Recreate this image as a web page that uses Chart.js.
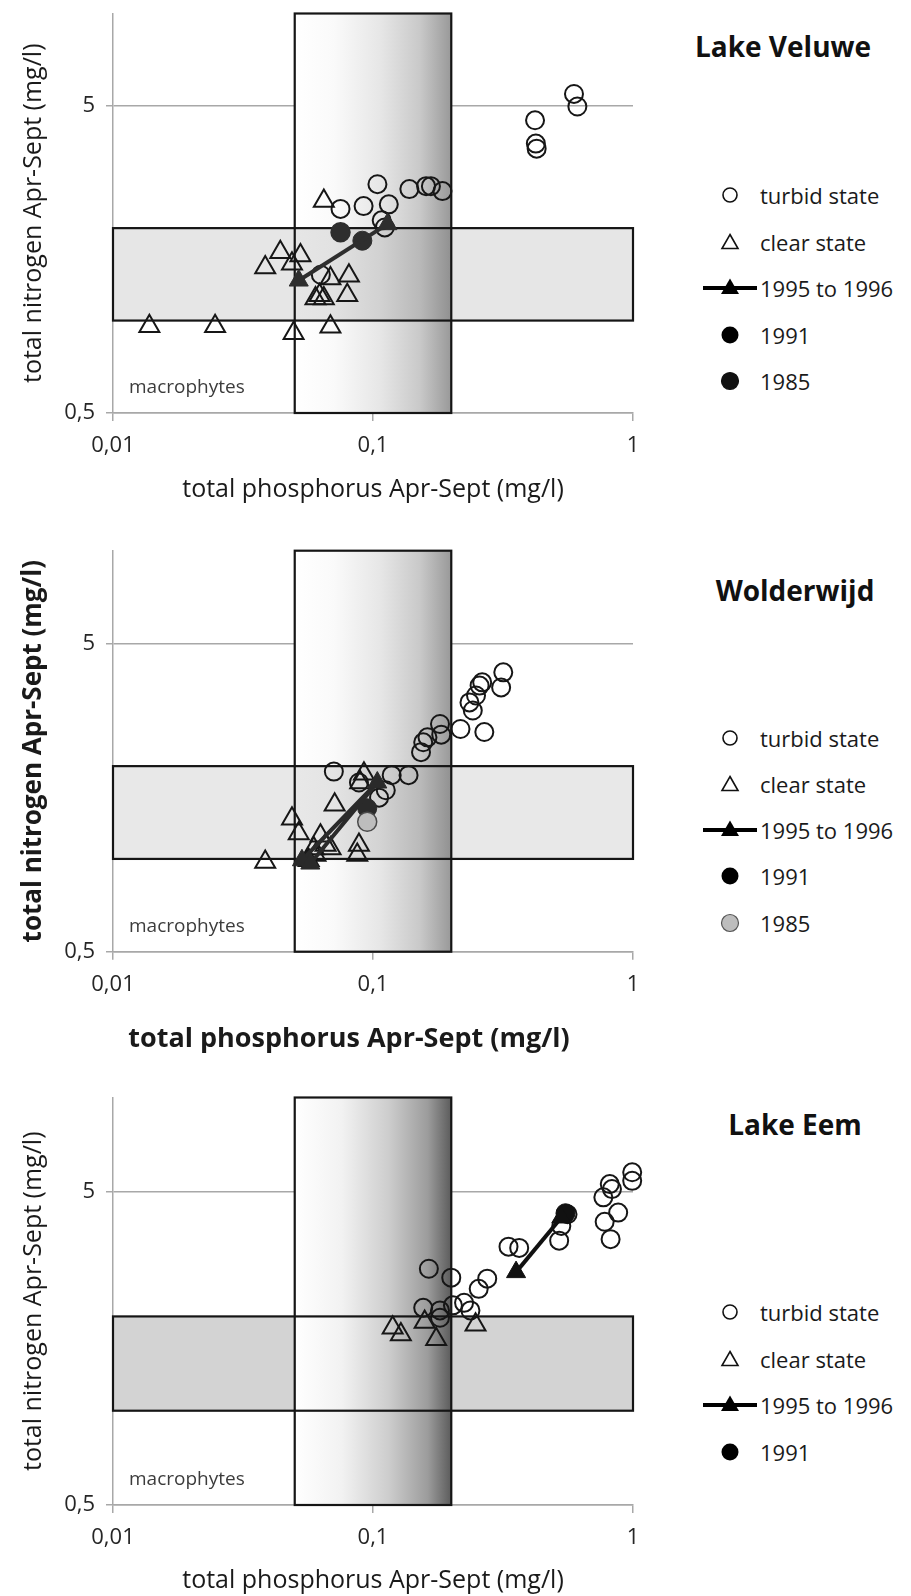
<!DOCTYPE html>
<html>
<head>
<meta charset="utf-8">
<script src="https://cdn.jsdelivr.net/npm/chart.js@4.4.1/dist/chart.umd.min.js"></script>
<style>
  html, body { margin: 0; padding: 0; background: #fff; }
  body { width: 911px; height: 1596px; position: relative; overflow: hidden;
         font-family: "Open Sans", "DejaVu Sans", sans-serif; color: #111; }
  canvas.panel { position: absolute; left: 0; }
  .lake { position: absolute; font-weight: bold; font-size: 28px; white-space: nowrap;
          transform: translate(-50%, -50%); color: #111; }
  .key { position: absolute; left: 760px; font-size: 22px; white-space: nowrap;
         transform: translateY(-50%); color: #1a1a1a; line-height: 1; }
  .mark { position: absolute; left: 700px; width: 60px; height: 26px; transform: translateY(-50%); }
  .axis-caption { position: absolute; white-space: nowrap; transform: translate(-50%, -50%);
                  color: #1a1a1a; line-height: 1; }
</style>
</head>
<body>
<canvas id="veluwe" class="panel" width="660" height="520" style="top:0px"></canvas>
<canvas id="wolderwijd" class="panel" width="660" height="530" style="top:530px"></canvas>
<canvas id="eem" class="panel" width="660" height="526" style="top:1070px"></canvas>

<script>
// ---- axes -------------------------------------------------------------
const phosphorusTicks = [0.01, 0.1, 1];
const phosphorusTickLabels = ['0,01', '0,1', '1'];
const nitrogenTicks = [0.5, 5];
const nitrogenTickLabels = ['0,5', '5'];
const phosphorusRange = [0.01, 1];
const nitrogenRange = [0.5, 10];
const phosphorusTitle = 'total phosphorus Apr-Sept (mg/l)';
const nitrogenTitle = 'total nitrogen Apr-Sept (mg/l)';

// ---- reference zones (mg/l) ------------------------------------------
const bandPhosphorus = [0.01, 1];      // horizontal band, nitrogen 1-2
const bandNitrogen = [1, 2];
const boxPhosphorus = [0.05, 0.2];     // vertical box, full nitrogen range
const boxNitrogen = [0.5, 10];

// ---- Lake Veluwe: [total P, total N] -----------------------------------
const veluweTurbid = [
  [0.593, 5.47], [0.611, 4.98], [0.42, 4.49], [0.423, 3.77], [0.426, 3.63],
  [0.104, 2.78], [0.138, 2.68], [0.160, 2.74], [0.167, 2.74], [0.185, 2.64],
  [0.075, 2.31], [0.092, 2.36], [0.115, 2.39], [0.108, 2.12], [0.111, 2.01],
  [0.063, 1.41]
];
const veluweClear = [
  [0.0138, 0.959], [0.0247, 0.959], [0.0495, 0.91], [0.0686, 0.955],
  [0.0647, 2.45], [0.0385, 1.49], [0.044, 1.67], [0.0488, 1.53], [0.0526, 1.63],
  [0.0686, 1.37], [0.0808, 1.40], [0.0796, 1.21], [0.0601, 1.18], [0.0647, 1.18],
  [0.0623, 1.21]
];
const veluwe1995to1996 = [[0.0518, 1.35], [0.1136, 2.06]];
const veluwe1991 = [[0.091, 1.82]];
const veluwe1985 = [[0.075, 1.94]];

// ---- Wolderwijd --------------------------------------------------------
const wolderwijdTurbid = [
  [0.317, 4.03], [0.311, 3.60], [0.263, 3.74], [0.257, 3.65], [0.249, 3.39],
  [0.235, 3.22], [0.242, 3.03], [0.268, 2.58], [0.217, 2.64], [0.181, 2.74],
  [0.183, 2.53], [0.162, 2.48], [0.156, 2.39], [0.153, 2.22], [0.0707, 1.92],
  [0.118, 1.87], [0.137, 1.87], [0.0883, 1.77], [0.112, 1.67], [0.1055, 1.58]
];
const wolderwijdClear = [
  [0.0923, 1.89], [0.0893, 1.77], [0.0712, 1.50], [0.0488, 1.35], [0.0518, 1.21],
  [0.0628, 1.19], [0.0657, 1.11], [0.0687, 1.08], [0.0592, 1.08], [0.0601, 1.03],
  [0.0566, 0.99], [0.0883, 1.11], [0.087, 1.03], [0.0385, 0.978]
];
const wolderwijd1995to1996 = [[0.0533, 0.99], [0.1039, 1.77], [0.0574, 0.966]];
const wolderwijd1991 = [[0.095, 1.46]];
const wolderwijd1985 = [[0.095, 1.32]];

// ---- Lake Eem ----------------------------------------------------------
const eemTurbid = [
  [0.993, 5.77], [0.993, 5.42], [0.814, 5.29], [0.830, 5.10], [0.769, 4.80],
  [0.877, 4.29], [0.778, 4.01], [0.820, 3.53], [0.560, 4.24], [0.530, 3.89],
  [0.520, 3.49], [0.332, 3.34], [0.365, 3.31], [0.164, 2.84], [0.200, 2.66],
  [0.275, 2.64], [0.255, 2.45], [0.156, 2.13], [0.181, 2.09], [0.181, 1.98],
  [0.203, 2.17], [0.224, 2.21], [0.237, 2.09]
];
const eemClear = [[0.119, 1.84], [0.128, 1.75], [0.158, 1.92], [0.175, 1.69], [0.248, 1.88]];
const eem1995to1996 = [[0.355, 2.77], [0.53, 4.14]];
const eem1991 = [[0.55, 4.27]];

const FONT = '"Open Sans", "DejaVu Sans", sans-serif';
const pts = arr => arr.map(([x, y]) => ({ x, y }));

// Shaded nutrient zones drawn beneath the data points
const zonesPlugin = {
  id: 'zones',
  beforeDatasetsDraw(chart, args, opts) {
    const { ctx, chartArea, scales: { x, y } } = chart;
    const bl = x.getPixelForValue(bandPhosphorus[0]), br = x.getPixelForValue(bandPhosphorus[1]);
    const bt = y.getPixelForValue(bandNitrogen[1]), bb = y.getPixelForValue(bandNitrogen[0]);
    const vl = x.getPixelForValue(boxPhosphorus[0]), vr = x.getPixelForValue(boxPhosphorus[1]);
    const vt = y.getPixelForValue(boxNitrogen[1]), vb = y.getPixelForValue(boxNitrogen[0]);
    ctx.save();
    const grad = ctx.createLinearGradient(vl, 0, vr, 0);
    opts.stops.forEach(([o, c]) => grad.addColorStop(o, c));
    if (opts.opaqueBox) {
      ctx.fillStyle = opts.bandColor;
      ctx.fillRect(bl, bt, br - bl, bb - bt);
      ctx.fillStyle = grad;
      ctx.fillRect(vl, vt, vr - vl, vb - vt);
    } else {
      ctx.fillStyle = '#ffffff';
      ctx.fillRect(vl, vt, vr - vl, vb - vt);
      ctx.fillStyle = opts.bandColor;
      ctx.fillRect(bl, bt, br - bl, bb - bt);
      ctx.fillStyle = grad;
      ctx.fillRect(vl, vt, vr - vl, vb - vt);
    }
    ctx.strokeStyle = '#151515';
    ctx.lineWidth = 2.2;
    ctx.strokeRect(bl, bt, br - bl, bb - bt);
    ctx.strokeRect(vl, vt, vr - vl, vb - vt);
    ctx.fillStyle = '#3c3c3c';
    ctx.font = '19px ' + FONT;
    ctx.textBaseline = 'middle';
    ctx.textAlign = 'left';
    ctx.fillText('macrophytes', chartArea.left + 16, chartArea.bottom - 25);
    ctx.restore();
  }
};

function buildChart(id, cfg) {
  const datasets = [
    { label: 'turbid state', data: pts(cfg.turbid), pointStyle: 'circle', pointRadius: 9,
      backgroundColor: 'rgba(0,0,0,0)', borderColor: '#161616', borderWidth: 2, order: 5, clip: false },
    { label: 'clear state', data: pts(cfg.clear), pointStyle: 'triangle', pointRadius: 11.5,
      backgroundColor: 'rgba(0,0,0,0)', borderColor: '#161616', borderWidth: 2, order: 4, clip: false },
    { label: '1995 to 1996', data: pts(cfg.line), showLine: true, pointStyle: 'triangle',
      pointRadius: 11, backgroundColor: cfg.lineColor, pointBackgroundColor: cfg.lineColor,
      borderColor: cfg.lineColor, pointBorderColor: cfg.lineColor, borderWidth: 4,
      pointBorderWidth: 1, order: 1, clip: false },
    { label: '1991', data: pts(cfg.y1991), pointStyle: 'circle', pointRadius: 9.5,
      backgroundColor: cfg.lineColor, borderColor: cfg.lineColor, borderWidth: 1, order: 3, clip: false }
  ];
  if (cfg.y1985) {
    datasets.push({ label: '1985', data: pts(cfg.y1985), pointStyle: 'circle', pointRadius: 9.5,
      backgroundColor: cfg.color1985, borderColor: cfg.border1985, borderWidth: 1.5, order: 2, clip: false });
  }
  const weight = cfg.bold ? 'bold' : 'normal';
  return new Chart(document.getElementById(id), {
    type: 'scatter',
    data: { datasets },
    plugins: [zonesPlugin],
    options: {
      responsive: false,
      animation: false,
      devicePixelRatio: 1,
      layout: { padding: { top: cfg.padTop, right: 27, left: 0, bottom: 0 } },
      plugins: {
        legend: { display: false },
        tooltip: { enabled: false },
        zones: { bandColor: cfg.bandColor, stops: cfg.stops, opaqueBox: cfg.opaqueBox }
      },
      scales: {
        x: {
          type: 'logarithmic', position: 'bottom',
          min: phosphorusRange[0], max: phosphorusRange[1],
          afterBuildTicks: s => { s.ticks = phosphorusTicks.map(v => ({ value: v })); },
          afterFit: s => { s.height = cfg.xAxisHeight; s.paddingLeft = 0; s.paddingRight = 0; },
          ticks: {
            autoSkip: false, maxRotation: 0, padding: 12, color: '#262626',
            font: { size: 22, family: FONT },
            callback: v => phosphorusTickLabels[phosphorusTicks.indexOf(v)] ?? ''
          },
          grid: { drawOnChartArea: false, drawTicks: true, tickLength: 8, color: '#a8a8a8', lineWidth: 1.5 },
          border: { color: '#a8a8a8', width: 1.5 },
          title: {
            display: !cfg.ownXTitle, text: phosphorusTitle, color: '#1a1a1a',
            font: { size: cfg.titleSize, family: FONT, weight }, padding: { top: 0, bottom: cfg.xTitlePad }
          }
        },
        y: {
          type: 'logarithmic', position: 'left',
          min: nitrogenRange[0], max: nitrogenRange[1],
          afterBuildTicks: s => { s.ticks = nitrogenTicks.map(v => ({ value: v })); },
          afterFit: s => { s.width = 113; s.paddingTop = 0; s.paddingBottom = 0; },
          ticks: {
            autoSkip: false, padding: 11, color: '#262626',
            font: { size: 22, family: FONT },
            callback: v => nitrogenTickLabels[nitrogenTicks.indexOf(v)] ?? ''
          },
          grid: { drawOnChartArea: true, drawTicks: true, tickLength: 7, color: '#a8a8a8', lineWidth: 1.5 },
          border: { color: '#a8a8a8', width: 1.5 },
          title: {
            display: true, text: nitrogenTitle, color: '#1a1a1a',
            font: { size: cfg.titleSize, family: FONT, weight },
            padding: { top: 34 - cfg.titleSize * 0.6, bottom: 0 }
          }
        }
      }
    }
  });
}

const lightStops = [[0, 'rgba(100,100,100,0)'], [0.25, 'rgba(100,100,100,0.03)'],
                    [0.55, 'rgba(100,100,100,0.16)'], [0.8, 'rgba(100,100,100,0.35)'],
                    [1, 'rgba(100,100,100,0.66)']];
const darkStops = [[0, '#ffffff'], [0.3, '#f2f2f2'], [0.6, '#cdcdcd'], [0.85, '#9c9c9c'], [1, '#5c5c5c']];

buildChart('veluwe', {
  turbid: veluweTurbid, clear: veluweClear, line: veluwe1995to1996,
  y1991: veluwe1991, y1985: veluwe1985, color1985: '#2e2e2e', border1985: '#2e2e2e',
  lineColor: '#2e2e2e', bandColor: '#e6e6e6', stops: lightStops, opaqueBox: false,
  padTop: 9.7, xAxisHeight: 107, xTitlePad: 15, bold: false, titleSize: 25
});
buildChart('wolderwijd', {
  turbid: wolderwijdTurbid, clear: wolderwijdClear, line: wolderwijd1995to1996,
  y1991: wolderwijd1991, y1985: wolderwijd1985, color1985: '#bdbdbd', border1985: '#4a4a4a',
  lineColor: '#2a2a2a', bandColor: '#e8e8e8', stops: lightStops, opaqueBox: false,
  padTop: 20.7, xAxisHeight: 108.3, xTitlePad: 11.4, bold: true, titleSize: 26, ownXTitle: true
});
buildChart('eem', {
  turbid: eemTurbid, clear: eemClear, line: eem1995to1996,
  y1991: eem1991, lineColor: '#111111', bandColor: '#d3d3d3', stops: darkStops, opaqueBox: true,
  padTop: 27.5, xAxisHeight: 91, xTitlePad: 0, bold: false, titleSize: 25
});

// Wolderwijd's phosphorus caption sits left of the plot centre
const wolderwijdCaption = document.createElement('div');
wolderwijdCaption.className = 'axis-caption';
wolderwijdCaption.textContent = phosphorusTitle;
wolderwijdCaption.style.cssText = 'left:349px;top:1036px;font-size:27px;font-weight:bold;';
document.body.appendChild(wolderwijdCaption);

// ---- titles and keys ---------------------------------------------------
const lakeNames = ['Lake Veluwe', 'Wolderwijd', 'Lake Eem'];
const lakeNameCenters = [[783, 46], [795, 590], [795, 1124]];
const keyLabels = [
  ['turbid state', 'clear state', '1995 to 1996', '1991', '1985'],
  ['turbid state', 'clear state', '1995 to 1996', '1991', '1985'],
  ['turbid state', 'clear state', '1995 to 1996', '1991']
];
const keyRows = [
  [195, 241.5, 288, 335, 381],
  [738, 784, 830, 876, 923],
  [1312, 1359, 1405, 1452]
];
const key1985Fill = ['#111', '#bdbdbd'];

const svgNS = 'http://www.w3.org/2000/svg';
function markSvg(kind, fill, stroke) {
  const s = document.createElementNS(svgNS, 'svg');
  s.setAttribute('width', 60); s.setAttribute('height', 26);
  s.setAttribute('class', 'mark');
  let inner = '';
  if (kind === 0) inner = '<circle cx="30" cy="13" r="7" fill="none" stroke="#111" stroke-width="1.6"/>';
  if (kind === 1) inner = '<polygon points="30,5.5 38,19.5 22,19.5" fill="none" stroke="#111" stroke-width="1.6"/>';
  if (kind === 2) inner = '<line x1="3" y1="13" x2="57" y2="13" stroke="#000" stroke-width="4"/>' +
                          '<polygon points="30,3.5 39,19 21,19" fill="#000"/>';
  if (kind === 3) inner = '<circle cx="30" cy="13" r="8.5" fill="#000"/>';
  if (kind === 4) inner = '<circle cx="30" cy="13" r="8.5" fill="' + fill + '" stroke="' + stroke + '" stroke-width="1.2"/>';
  s.innerHTML = inner;
  return s;
}

lakeNames.forEach((name, p) => {
  const t = document.createElement('div');
  t.className = 'lake';
  t.textContent = name;
  t.style.left = lakeNameCenters[p][0] + 'px';
  t.style.top = lakeNameCenters[p][1] + 'px';
  document.body.appendChild(t);
  keyLabels[p].forEach((lab, i) => {
    const m = markSvg(i, key1985Fill[p] || '#111', p === 1 ? '#555' : '#111');
    m.style.top = keyRows[p][i] + 'px';
    document.body.appendChild(m);
    const k = document.createElement('div');
    k.className = 'key';
    k.textContent = lab;
    k.style.top = keyRows[p][i] + 'px';
    document.body.appendChild(k);
  });
});
</script>
</body>
</html>
